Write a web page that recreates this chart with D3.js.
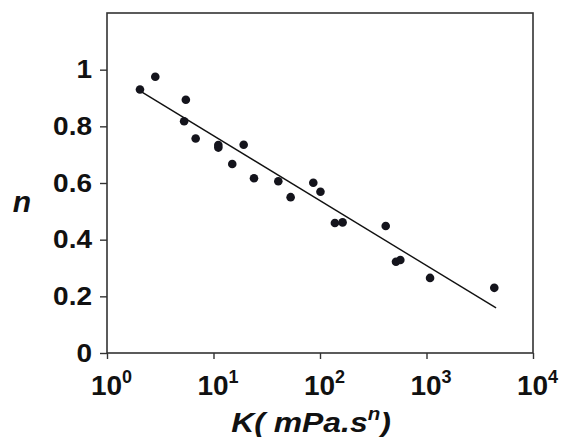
<!DOCTYPE html>
<html>
<head>
<meta charset="utf-8">
<script src="https://cdn.jsdelivr.net/npm/d3@7"></script>
<style>
  body { margin: 0; background: #fff; }
  svg { display: block; font-family: "Liberation Sans", Arial, sans-serif; }
</style>
</head>
<body>
<svg id="chart"></svg>
<script>
// measured points, K in mPa.s^n, n dimensionless
const kValues = [2.04, 2.84, 5.5, 5.3, 6.8, 11.1, 11.1, 19.2, 15.0, 24.0, 40.6, 53, 86.5, 101, 138, 163, 414, 517, 568, 1080, 4330]
const nValues = [0.93, 0.975, 0.894, 0.818, 0.757, 0.734, 0.725, 0.735, 0.667, 0.617, 0.606, 0.55, 0.601, 0.569, 0.459, 0.461, 0.448, 0.322, 0.328, 0.265, 0.23]

// trend line end points
const fitK = [2.13, 4500]
const fitN = [0.921, 0.159]

const xTicks = [1, 10, 100, 1000, 10000]
const yTicks = [0, 0.2, 0.4, 0.6, 0.8, 1]

const W = 561, H = 437
const margin = {top: 13, right: 28, bottom: 84, left: 107}

const svg = d3.select('#chart').attr('width', W).attr('height', H)

const x = d3.scaleLog().domain([1, 10000]).range([margin.left, W - margin.right])
const y = d3.scaleLinear().domain([0, 1.2]).range([H - margin.bottom, margin.top])

// frame
svg.append('rect')
    .attr('x', x(1)).attr('y', y(1.2))
    .attr('width', x(10000) - x(1)).attr('height', y(0) - y(1.2))
    .attr('fill', 'none').attr('stroke', '#333').attr('stroke-width', 1.6)

// y axis
const yAxis = svg.append('g')
    .attr('transform', `translate(${margin.left},0)`)
    .call(d3.axisLeft(y).tickValues(yTicks).tickSize(7).tickPadding(8)
        .tickFormat(d => d === 0 ? '0' : d === 1 ? '1' : d3.format('.1f')(d)))
yAxis.select('.domain').remove()
yAxis.selectAll('line').attr('stroke', '#333').attr('stroke-width', 1.4)
yAxis.selectAll('text')
    .attr('fill', '#111').attr('font-size', 25).attr('font-weight', 'bold')
    .each(function() {
        // labels in the picture are a bit wider than the font
        const len = this.getComputedTextLength()
        d3.select(this).attr('textLength', len * 1.12).attr('lengthAdjust', 'spacingAndGlyphs')
    })

// x axis
const xAxis = svg.append('g')
    .attr('transform', `translate(0,${H - margin.bottom})`)
    .call(d3.axisBottom(x).tickValues(xTicks).tickSize(6).tickFormat(''))
xAxis.select('.domain').remove()
xAxis.selectAll('line').attr('stroke', '#333').attr('stroke-width', 1.4)

xAxis.selectAll('.tick').append('text')
    .attr('x', 4).attr('y', 42)
    .attr('text-anchor', 'middle')
    .attr('fill', '#111').attr('font-size', 28).attr('font-weight', 'bold')
    .each(function(d) {
        const t = d3.select(this)
        t.append('tspan').text('10')
        t.append('tspan').attr('font-size', 18).attr('dy', -12).text(Math.round(Math.log10(d)))
    })

// axis titles
svg.append('text')
    .attr('x', 22).attr('y', 212)
    .attr('text-anchor', 'middle')
    .attr('font-size', 30).attr('font-weight', 'bold').attr('font-style', 'italic')
    .attr('fill', '#111')
    .text('n')

const xt = svg.append('g')
    .attr('transform', 'translate(311,432) scale(1.14,1)')
    .append('text')
    .attr('text-anchor', 'middle')
    .attr('font-size', 28).attr('font-weight', 'bold').attr('font-style', 'italic')
    .attr('fill', '#111')
xt.append('tspan').text('K( mPa.s')
xt.append('tspan').attr('font-size', 18).attr('dy', -12).text('n')
xt.append('tspan').attr('dy', 12).text(')')

// trend line
const fit = fitK.map((k, i) => [k, fitN[i]])
svg.append('path')
    .datum(fit)
    .attr('d', d3.line().x(d => x(d[0])).y(d => y(d[1])))
    .attr('stroke', '#111').attr('stroke-width', 1.4).attr('fill', 'none')

// points
const pts = kValues.map((k, i) => ({k: k, n: nValues[i]}))
svg.selectAll('.pt')
    .data(pts)
    .enter()
    .append('circle')
    .classed('pt', true)
    .attr('cx', d => x(d.k))
    .attr('cy', d => y(d.n))
    .attr('r', 4.3)
    .attr('fill', '#14141c')
</script>
</body>
</html>
